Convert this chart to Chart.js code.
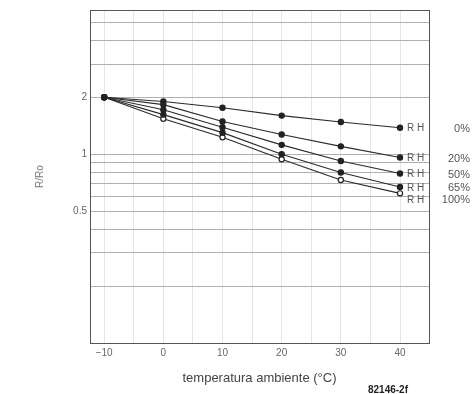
<!DOCTYPE html>
<html>
<head>
<meta charset="utf-8">
<script src="https://cdn.jsdelivr.net/npm/chart.js@4.4.1/dist/chart.umd.min.js"></script>
<style>
  html, body { margin: 0; padding: 0; background: #fff; }
  #wrap { width: 472px; height: 394px; position: relative; }
</style>
</head>
<body>
<div id="wrap"><canvas id="c" width="472" height="394"></canvas></div>
<script>
// ---- data ----
const temperatures = [-10, 0, 10, 20, 30, 40];
const seriesNames = ['0%', '20%', '50%', '65%', '100%'];
const rh0   = [2.0, 1.90, 1.76, 1.60, 1.48, 1.38];
const rh20  = [2.0, 1.83, 1.49, 1.27, 1.10, 0.96];
const rh50  = [2.0, 1.72, 1.39, 1.12, 0.92, 0.79];
const rh65  = [2.0, 1.62, 1.30, 1.00, 0.80, 0.67];
const rh100 = [2.0, 1.54, 1.23, 0.94, 0.73, 0.62];
const xTicks = [-10, -5, 0, 5, 10, 15, 20, 25, 30, 35, 40];
const xLabelTicks = [-10, 0, 10, 20, 30, 40];
const yTicks = [0.1, 0.2, 0.3, 0.4, 0.5, 0.6, 0.7, 0.8, 0.9, 1, 2, 3, 4, 5];
const yLabelTicks = [2, 1, 0.5];
const seriesValues = [rh0, rh20, rh50, rh65, rh100];
const openMarker = [false, false, false, false, true];

const FONT = '"Liberation Sans", Arial, sans-serif';

const datasets = seriesValues.map((vals, i) => ({
  label: 'R H ' + seriesNames[i],
  data: temperatures.map((t, j) => ({ x: t, y: vals[j] })),
  borderColor: '#2a2a2a',
  borderWidth: 1.1,
  pointRadius: 2.6,
  pointBorderWidth: 1.2,
  pointBackgroundColor: openMarker[i] ? '#ffffff' : '#222222',
  pointBorderColor: '#222222',
  tension: 0,
  fill: false
}));

const frame = {
  id: 'frame',
  afterDatasetsDraw(chart) {
    const { ctx, chartArea: a } = chart;
    ctx.save();
    ctx.strokeStyle = '#555';
    ctx.lineWidth = 1;
    ctx.strokeRect(a.left + 0.5, a.top + 0.5, a.right - a.left, a.bottom - a.top);
    ctx.restore();
  }
};

const rhLabels = {
  id: 'rhLabels',
  afterDatasetsDraw(chart) {
    const { ctx } = chart;
    const xs = chart.scales.x, ys = chart.scales.y;
    const lastX = temperatures[temperatures.length - 1];
    const px = xs.getPixelForValue(lastX);
    let ypos = seriesValues.map(v => ys.getPixelForValue(v[v.length - 1]));
    for (let i = 1; i < ypos.length; i++) {
      if (ypos[i] - ypos[i - 1] < 12) ypos[i] = ypos[i - 1] + 12;
    }
    ctx.save();
    ctx.textBaseline = 'middle';
    ctx.fillStyle = '#555';
    seriesNames.forEach((n, i) => {
      ctx.font = '10px ' + FONT;
      ctx.textAlign = 'left';
      ctx.fillText('R H', px + 7, ypos[i] + 1);
      ctx.font = '11px ' + FONT;
      ctx.textAlign = 'right';
      ctx.fillText(n, 470, ypos[i] + 1);
    });
    ctx.font = 'bold 10px ' + FONT;
    ctx.fillStyle = '#222';
    ctx.textAlign = 'right';
    ctx.fillText('82146-2f', 408, 390);
    ctx.restore();
  }
};

new Chart(document.getElementById('c'), {
  type: 'line',
  data: { datasets },
  options: {
    responsive: false,
    animation: false,
    devicePixelRatio: 1,
    layout: { padding: { left: 0, right: 43, top: 10, bottom: 0 } },
    plugins: { legend: { display: false }, tooltip: { enabled: false } },
    scales: {
      x: {
        type: 'linear',
        min: -12.4,
        max: 44.9,
        afterBuildTicks(s) { s.ticks = xTicks.map(v => ({ value: v })); },
        afterFit(s) { s.height = 51; },
        ticks: {
          autoSkip: false,
          maxRotation: 0,
          color: '#666',
          font: { family: FONT, size: 10 },
          padding: 4,
          callback: v => xLabelTicks.includes(v) ? (v < 0 ? '\u2212' + Math.abs(v) : String(v)) : ''
        },
        grid: { color: '#e6e6e6', lineWidth: 1, drawTicks: false },
        border: { display: true, color: '#555' },
        title: {
          display: true,
          text: 'temperatura ambiente (°C)',
          color: '#444',
          font: { family: FONT, size: 13 },
          padding: { top: 0, bottom: 8 }
        }
      },
      y: {
        type: 'logarithmic',
        min: 0.1,
        max: 5.8,
        afterBuildTicks(s) { s.ticks = yTicks.map(v => ({ value: v })); },
        afterFit(s) { s.width = 90; },
        ticks: {
          autoSkip: false,
          color: '#666',
          font: { family: FONT, size: 10 },
          padding: 3,
          callback: v => yLabelTicks.includes(v) ? String(v) : ''
        },
        grid: { color: '#b0b0b0', lineWidth: 1, drawTicks: false },
        border: { display: true, color: '#555' },
        title: {
          display: true,
          text: 'R/Ro',
          color: '#777',
          font: { family: FONT, size: 10 },
          padding: { top: 34, bottom: 0 }
        }
      }
    }
  },
  plugins: [frame, rhLabels]
});
</script>
</body>
</html>
